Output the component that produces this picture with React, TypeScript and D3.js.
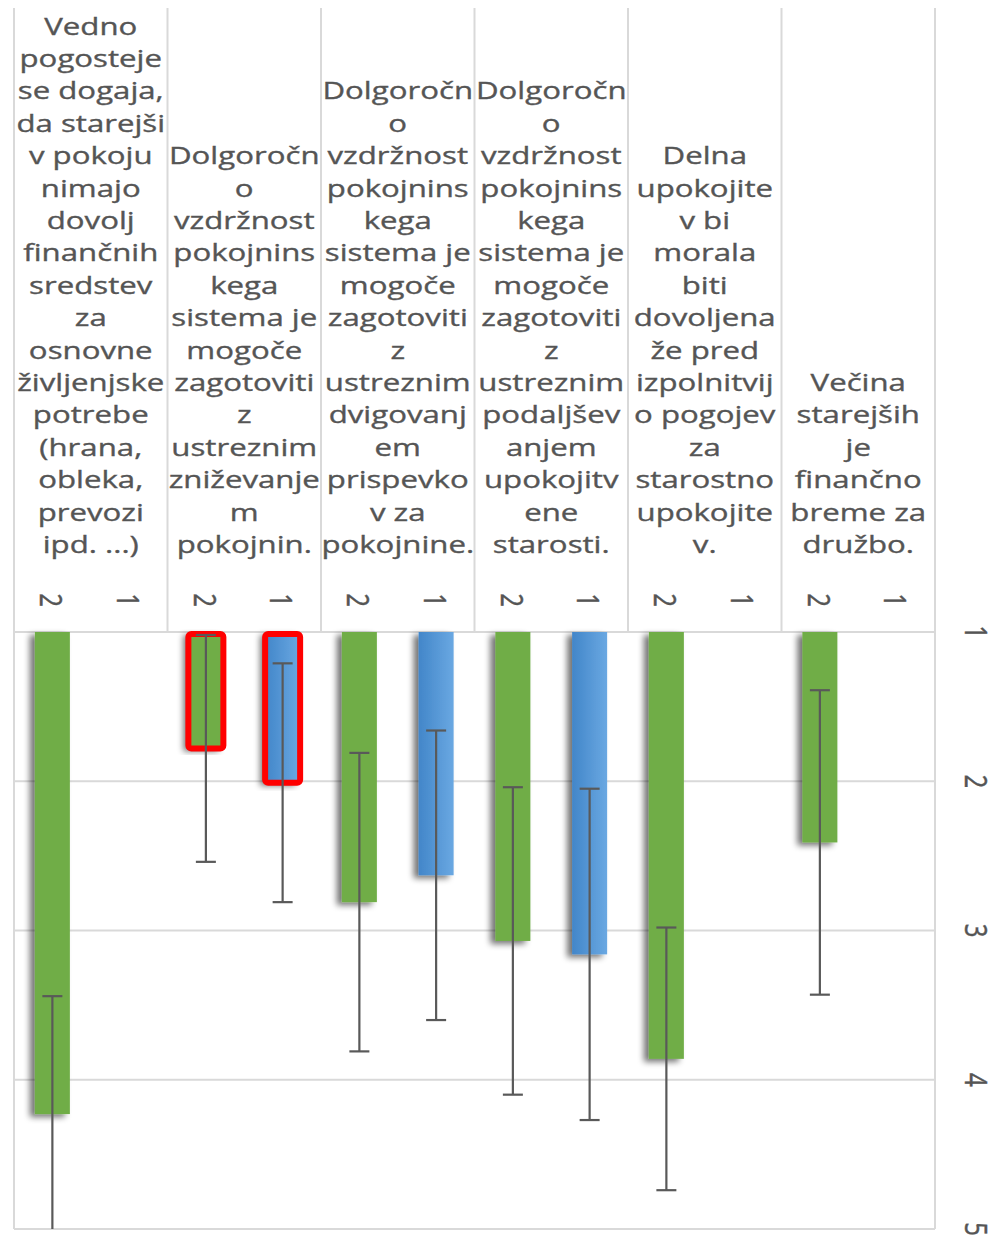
import React from "react";
import * as d3 from "d3";

const categories = [
    "Vedno pogosteje se dogaja, da starejši v pokoju nimajo dovolj finančnih sredstev za osnovne življenjske potrebe (hrana, obleka, prevozi ipd. ...)",
    "Dolgoročno vzdržnost pokojninskega sistema je mogoče zagotoviti z ustreznim zniževanjem pokojnin.",
    "Dolgoročno vzdržnost pokojninskega sistema je mogoče zagotoviti z ustreznim dvigovanjem prispevkov za pokojnine.",
    "Dolgoročno vzdržnost pokojninskega sistema je mogoče zagotoviti z ustreznim podaljševanjem upokojitvene starosti.",
    "Delna upokojitev bi morala biti dovoljena že pred izpolnitvijo pogojev za starostno upokojitev.",
    "Večina starejših je finančno breme za družbo.",
];

// wrapped label lines as they appear in the chart
const categoryLines = [
    ["Vedno", "pogosteje", "se dogaja,", "da starejši", "v pokoju", "nimajo", "dovolj", "finančnih", "sredstev", "za", "osnovne", "življenjske", "potrebe", "(hrana,", "obleka,", "prevozi", "ipd. ...)"],
    ["Dolgoročn", "o", "vzdržnost", "pokojnins", "kega", "sistema je", "mogoče", "zagotoviti", "z", "ustreznim", "zniževanje", "m", "pokojnin."],
    ["Dolgoročn", "o", "vzdržnost", "pokojnins", "kega", "sistema je", "mogoče", "zagotoviti", "z", "ustreznim", "dvigovanj", "em", "prispevko", "v za", "pokojnine."],
    ["Dolgoročn", "o", "vzdržnost", "pokojnins", "kega", "sistema je", "mogoče", "zagotoviti", "z", "ustreznim", "podaljšev", "anjem", "upokojitv", "ene", "starosti."],
    ["Delna", "upokojite", "v bi", "morala", "biti", "dovoljena", "že pred", "izpolnitvij", "o pogojev", "za", "starostno", "upokojite", "v."],
    ["Večina", "starejših", "je", "finančno", "breme za", "družbo."],
];

const seriesKeys = ["2", "1"];
const values2 = [4.23, 1.78, 2.81, 3.07, 3.86, 2.41];
const errors2 = [0.79, 0.76, 1.0, 1.03, 0.88, 1.02];
const values1: (number | null)[] = [null, 2.01, 2.63, 3.16, null, null];
const errors1: (number | null)[] = [null, 0.8, 0.97, 1.11, null, null];
const highlighted = [categories[1]];
const yTicks = [1, 2, 3, 4, 5];

const textColor = "#555555";
const gridColor = "#d9d9d9";
const stretch = 1.3; // the picture is drawn wide

const App = () => {
    const left = 14, right = 935, top = 8;
    const plotTop = 632, plotBottom = 1229;

    const x0 = d3.scaleBand().domain(categories).range([left, right]);
    const x1 = d3.scalePoint().domain(seriesKeys).range([0, x0.bandwidth()]).padding(0.5);
    const y = d3.scaleLinear().domain([1, 5]).range([plotTop, plotBottom]);
    const barW = 35;

    const series = [
        {key: "2", values: values2, errors: errors2, fill: "#70ad47"},
        {key: "1", values: values1, errors: errors1, fill: "url(#blueGrad)"},
    ];

    const textStyle = {fontSize: 24, fill: textColor, stroke: textColor, strokeWidth: 0.35};

    return (
        <svg width={997} height={1236} style={{position: "absolute", left: 0, top: 0, background: "#fff"}}
             fontFamily="'Open Sans', sans-serif">
            <defs>
                <linearGradient id="blueGrad" x1="0" x2="1" y1="0" y2="0">
                    <stop offset="0%" stopColor="#4286c9"/>
                    <stop offset="100%" stopColor="#6aa8e2"/>
                </linearGradient>
                <filter id="shadow" x="-50%" y="-5%" width="200%" height="110%">
                    <feGaussianBlur in="SourceAlpha" stdDeviation="3"/>
                    <feOffset dx="-5" dy="3" result="b"/>
                    <feComponentTransfer>
                        <feFuncA type="linear" slope="0.55"/>
                    </feComponentTransfer>
                    <feMerge>
                        <feMergeNode/>
                        <feMergeNode in="SourceGraphic"/>
                    </feMerge>
                </filter>
            </defs>

            {/* grid and frame */}
            <g stroke={gridColor} strokeWidth={2}>
                {yTicks.map(t => (
                    <line key={t} x1={left} x2={right} y1={y(t)} y2={y(t)}/>
                ))}
                <line x1={left} x2={left} y1={top} y2={plotBottom}/>
                <line x1={right} x2={right} y1={top} y2={plotBottom}/>
                {categories.slice(1).map(c => (
                    <line key={c} x1={x0(c)} x2={x0(c)} y1={top} y2={plotTop}/>
                ))}
            </g>

            {/* category labels */}
            {categories.map((c, i) => {
                const lines = categoryLines[i];
                const cx = x0(c)! + x0.bandwidth() / 2;
                return (
                    <g key={c} transform={`translate(${cx},0) scale(${stretch},1)`}>
                        {lines.map((l, j) => (
                            <text key={j} x={0} y={553 - (lines.length - 1 - j) * 32.4}
                                  textAnchor="middle" {...textStyle}>{l}</text>
                        ))}
                    </g>
                );
            })}

            {/* sub labels */}
            {categories.map(c => seriesKeys.map(k => (
                <text key={c + k} transform={`translate(${x0(c)! + x1(k)!},600) scale(${stretch},1) rotate(90)`}
                      textAnchor="middle" dominantBaseline="central" {...textStyle}>{k}</text>
            )))}

            {/* value axis on the right */}
            {yTicks.map(t => (
                <text key={t} transform={`translate(977,${y(t)}) scale(${stretch},1) rotate(90)`}
                      textAnchor="middle" dominantBaseline="central" {...textStyle}>{t}</text>
            ))}

            {/* bars */}
            {series.map(s => categories.map((c, i) => {
                const v = s.values[i];
                if (v == null) return null;
                const cx = x0(c)! + x1(s.key)!;
                return (
                    <rect key={s.key + i} x={cx - barW / 2} y={y(1)} width={barW} height={y(v) - y(1)}
                          fill={s.fill} filter="url(#shadow)"/>
                );
            }))}

            {/* highlight outline */}
            {series.map(s => categories.map((c, i) => {
                const v = s.values[i];
                if (v == null || !highlighted.includes(c)) return null;
                const cx = x0(c)! + x1(s.key)!;
                return (
                    <rect key={"h" + s.key + i} x={cx - barW / 2} y={y(1) + 2} width={barW}
                          height={y(v) - y(1) - 2} fill="none" stroke="#ff0000" strokeWidth={6} rx={3}/>
                );
            }))}

            {/* error bars */}
            <g stroke="#595959" strokeWidth={2.2}>
                {series.map(s => categories.map((c, i) => {
                    const v = s.values[i];
                    const e = s.errors[i];
                    if (v == null || e == null) return null;
                    const cx = x0(c)! + x1(s.key)!;
                    const lo = Math.max(v - e, 1);
                    const hi = Math.min(v + e, 5);
                    return (
                        <g key={"e" + s.key + i}>
                            <line x1={cx} x2={cx} y1={y(lo)} y2={y(hi)}/>
                            {v - e >= 1 && <line x1={cx - 10} x2={cx + 10} y1={y(lo)} y2={y(lo)}/>}
                            {v + e <= 5 && <line x1={cx - 10} x2={cx + 10} y1={y(hi)} y2={y(hi)}/>}
                        </g>
                    );
                }))}
            </g>
        </svg>
    );
};

export default App;
